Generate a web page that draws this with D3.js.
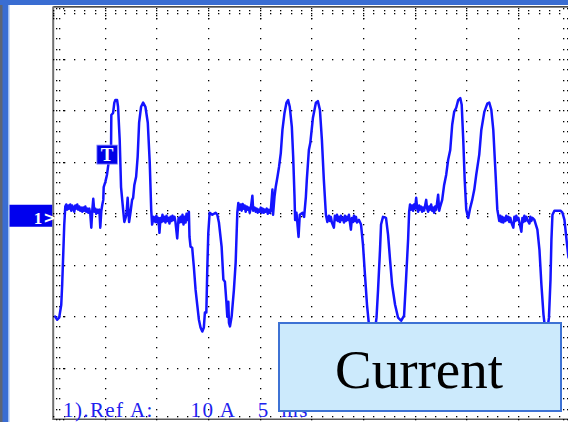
<!DOCTYPE html>
<html>
<head>
<meta charset="utf-8">
<script src="https://cdn.jsdelivr.net/npm/d3@7"></script>
<style>
  html, body { margin: 0; padding: 0; background: #fff; overflow: hidden; }
  svg { display: block; }
</style>
</head>
<body>
<svg id="scope" width="568" height="422"></svg>
<script>
// Channel 1 current trace: time in ms, current in A
const traceTime = [
  0.19, 0.39, 0.58, 0.78, 0.87, 0.97, 1.07, 1.17, 1.26, 1.36, 1.46, 1.55, 1.65, 1.75, 1.84, 1.94, 2.04, 2.14, 2.23, 2.33, 2.43, 2.52, 2.62, 2.72, 2.82, 2.91, 3.01, 3.11, 3.2, 3.3, 3.4, 3.5, 3.59, 3.69, 3.79, 3.88, 3.98, 4.08, 4.17, 4.27, 4.37, 4.47, 4.56, 4.66, 4.76, 4.85,
  4.89, 5.05, 5.21, 5.47, 5.6, 5.63, 5.8, 5.92, 6.02, 6.19, 6.28, 6.44, 6.57, 6.77, 6.89, 7.09, 7.21, 7.35, 7.48, 7.64, 7.74, 7.86, 8.03, 8.18, 8.32, 8.51, 8.71, 8.93, 9.16, 9.35, 9.49, 9.58, 9.74,
  9.9, 9.99, 10.1, 10.19, 10.29, 10.39, 10.49, 10.58, 10.68, 10.78, 10.87, 10.97, 11.07, 11.17, 11.26, 11.36, 11.46, 11.55, 11.65, 11.75, 11.84, 12.01, 12.14, 12.23, 12.33, 12.43, 12.52, 12.62, 12.72, 12.82, 12.91, 13.01, 13.14,
  13.2, 13.3, 13.46, 13.62, 13.79, 13.95, 14.11, 14.27, 14.44, 14.59, 14.69, 14.83, 14.92, 15.02, 15.15, 15.41, 15.73, 15.89, 16.05, 16.31, 16.48, 16.63, 16.77, 16.86, 16.96, 17.02, 17.12, 17.28, 17.5, 17.67, 17.83, 17.93,
  18.06, 18.16, 18.25, 18.35, 18.45, 18.54, 18.64, 18.74, 18.83, 18.93, 19.03, 19.13, 19.29, 19.37, 19.51, 19.61, 19.71, 19.81, 19.9, 20.0, 20.1, 20.19, 20.29, 20.39, 20.49, 20.58, 20.68, 20.78, 20.87, 20.97, 21.07, 21.23, 21.29,
  21.43, 21.55, 21.72, 21.87, 22.04, 22.2, 22.4, 22.59, 22.75, 22.91, 23.11, 23.24, 23.37, 23.43, 23.56, 23.76, 23.88, 24.15, 24.3, 24.47, 24.56, 24.76, 24.9, 25.15, 25.44, 25.63, 25.83, 26.02, 26.21, 26.41, 26.55,
  26.7, 26.8, 26.89, 26.99, 27.18, 27.28, 27.38, 27.48, 27.57, 27.67, 27.77, 27.86, 27.96, 28.06, 28.16, 28.25, 28.35, 28.45, 28.54, 28.64, 28.83, 28.93, 29.03, 29.13, 29.22, 29.32, 29.42, 29.61,
  29.81, 30.0, 30.19, 30.39, 30.58, 30.78, 30.97, 31.17, 31.31, 31.46, 31.65, 31.75, 31.94, 32.23, 32.43, 32.62, 32.82, 33.11, 33.4, 33.69, 33.98, 34.17, 34.37, 34.47, 34.56,
  34.66, 34.76, 34.85, 34.95, 35.05, 35.15, 35.24, 35.34, 35.44, 35.53, 35.63, 35.73, 35.83, 35.92, 36.02, 36.12, 36.21, 36.31, 36.41, 36.5, 36.6, 36.7, 36.8, 36.89, 36.99, 37.09, 37.28, 37.38, 37.48,
  37.67, 37.86, 38.06, 38.25, 38.45, 38.64, 38.83, 39.03, 39.22, 39.42, 39.56, 39.71, 39.85, 40.0, 40.19, 40.39, 40.58, 40.78, 40.97, 41.26, 41.46, 41.75, 42.04, 42.23, 42.43, 42.62, 42.82, 43.01, 43.2,
  43.3, 43.4, 43.5, 43.59, 43.69, 43.79, 43.88, 43.98, 44.08, 44.17, 44.27, 44.37, 44.56, 44.66, 44.76, 44.85, 44.95, 45.05, 45.15, 45.34, 45.44, 45.53, 45.63, 45.73, 45.83, 45.92, 46.12, 46.21, 46.31, 46.41, 46.6,
  46.89, 47.09, 47.28, 47.48, 47.67, 47.86, 48.01, 48.16, 48.25, 48.35, 48.54, 48.83, 49.13, 49.32, 49.51, 49.71, 49.9
];
const traceCurrent = [
  -20.1, -20.7, -20.3, -17.8, -13.9, -8.1, -2.2, 1.3, 1.7, 0.7, 1.5, 0.9, 1.7, 0.5, 1.5, 1.1, 0.3, 1.5, 0.9, 1.7, 0.7, 1.3, 0.5, 1.1, 0.3, 1.1, 0.5, 1.3, 0.3, 0.9, 0.1, 0.9, -0.1, -2.8, 0.7, 2.8, 0.3, 0.9, -0.1, 0.7, 0.1, 0.7, -2.8, 0.5, 1.7, 2.6,
  5.1, 6.1, 7.5, 11.4, 12.3, 19.1, 19.5, 21.5, 22.0, 22.0, 20.7, 14.3, 5.1, 0.7, -1.7, -0.3, 3.0, -1.7, 0.1, 2.6, 3.0, 5.5, 7.1, 11.0, 17.6, 20.7, 21.5, 20.7, 17.6, 9.8, 0.7, -2.2, -0.7,
  -1.7, -0.5, -1.8, -0.9, -3.8, -0.9, -1.7, -0.3, -1.5, -0.7, -1.8, -0.5, -1.5, -0.9, -2.0, -0.7, -1.5, -0.5, -1.3, -0.7, -1.7, -4.9, -0.9, -1.8, -0.7, -1.7, -0.3, -2.2, -0.7, -1.8, -0.1, -1.3, 0.3,
  -4.6, -6.5, -6.7, -10.4, -14.9, -17.8, -20.7, -22.2, -23.0, -22.2, -19.3, -19.3, -11.0, -3.8, 0.1, -0.3, 0.1, -0.3, -1.8, -6.5, -12.9, -13.3, -17.2, -20.1, -17.2, -21.3, -22.0, -20.1, -14.9, -9.6, 0.1, 2.0,
  0.7, 1.7, 0.5, 1.8, 0.9, 1.5, 0.3, 1.3, 0.7, 1.1, 0.1, 0.9, 3.4, 0.5, 1.1, 0.3, 0.9, 0.1, 0.7, 0.3, 1.1, 0.1, 0.9, 0.1, 0.7, 0.3, 0.9, -0.1, 0.7, 0.1, 0.5, 4.6, -0.3,
  3.2, 5.1, 7.1, 9.0, 11.7, 16.2, 19.5, 21.5, 22.0, 20.7, 16.8, 11.0, 3.2, -1.3, 0.1, -4.6, -0.3, 0.1, -0.7, 3.2, 6.5, 12.3, 13.7, 18.5, 21.5, 21.8, 20.1, 14.3, 6.5, -0.3, -1.7,
  -0.5, -1.5, -0.7, -1.8, -2.8, -0.5, -1.3, -0.3, -1.5, -0.7, -1.7, -0.5, -1.3, -0.9, -1.8, -0.5, -1.5, -0.7, -1.3, -0.3, -3.2, -0.9, -1.7, -0.5, -1.5, -0.7, -1.8, -1.3,
  -2.2, -6.1, -11.9, -17.8, -21.7, -22.8, -23.2, -22.6, -20.3, -14.9, -7.1, -2.2, -0.7, -0.9, -4.2, -9.0, -13.9, -17.8, -20.3, -20.9, -19.9, -12.9, -5.1, 0.3, 1.7,
  0.7, 1.5, 0.5, 1.7, 0.9, 3.0, 1.1, 0.3, 1.5, 0.7, 1.3, 0.3, 1.1, 0.5, 1.5, 2.6, 0.9, 0.3, 1.3, 0.7, 1.7, 0.5, 1.1, 0.1, 1.3, 0.7, 3.6, 0.5, 1.3,
  2.6, 5.5, 7.5, 10.4, 12.3, 17.2, 19.7, 20.5, 22.0, 22.4, 21.1, 14.3, 6.5, 0.7, -0.9, 1.1, 2.6, 4.6, 7.5, 11.4, 16.2, 19.7, 21.3, 21.5, 20.1, 16.2, 8.4, 0.7, -1.5,
  -0.5, -1.7, -0.7, -1.8, -0.9, -1.5, -0.5, -1.3, -0.7, -1.7, -0.9, -1.8, -2.8, -0.7, -1.5, -0.5, -1.3, -0.9, -1.8, -3.6, -0.9, -1.7, -0.5, -1.5, -0.7, -1.3, -2.0, -0.7, -1.5, -0.9, -1.3,
  -3.2, -7.1, -13.9, -19.7, -23.0, -22.6, -20.3, -12.9, -5.1, -0.3, 0.5, 0.5, 0.5, 0.1, -1.3, -5.1, -8.6
];

// Graticule: 10 horizontal divisions of 5 ms, 8 vertical divisions of 10 A
const timeTicks = d3.range(0, 50.001, 5);
const currentTicks = d3.range(-40, 40.001, 10);
const minorTime = d3.range(0, 50.001, 1);
const minorCurrent = d3.range(-40, 40.001, 2);

// Annotation texts
const channelLabel = ["1", ">"];
const triggerLabel = "T";
const triggerTime = 5.2;      // ms
const triggerLevel = 11.5;    // A
const scaleLabels = [
  { text: "1).Ref A:", at: 0.95 },
  { text: "10 A", at: 13.3 },
  { text: "5", at: 19.8 },
  { text: "ms", at: 22.1 }
];
const captionText = "Current";

const svg = d3.select("#scope");
const W = 568, H = 422;

const x = d3.scaleLinear().domain([0, 50]).range([53.2, 569.5]);
const y = d3.scaleLinear().domain([-40, 40]).range([419, 7.5]);

// Window chrome
svg.append("rect").attr("width", W).attr("height", H).attr("fill", "#ffffff");
svg.append("rect").attr("x", 0).attr("y", 0).attr("width", 9).attr("height", H).attr("fill", "#3a6dd2");
svg.append("rect").attr("x", 0).attr("y", 0).attr("width", 2.5).attr("height", H).attr("fill", "#5e6574");
svg.append("rect").attr("x", 8).attr("y", 0).attr("width", 1.5).attr("height", H).attr("fill", "#9fbdf2");
svg.append("rect").attr("x", 0).attr("y", 0).attr("width", W).attr("height", 5).attr("fill", "#3a6dd2");

// Plot frame
svg.append("line").attr("x1", x(0)).attr("x2", W).attr("y1", 6.8).attr("y2", 6.8)
  .attr("stroke", "#111").attr("stroke-width", 1.2);
svg.append("line").attr("x1", x(0)).attr("x2", x(0)).attr("y1", 6.5).attr("y2", 420)
  .attr("stroke", "#707070").attr("stroke-width", 2);
svg.append("line").attr("x1", x(0)).attr("x2", W).attr("y1", 419.3).attr("y2", 419.3)
  .attr("stroke", "#5a5a5a").attr("stroke-width", 1.4);

// Dotted graticule
const dots = [];
const x0 = x(0), x1 = x(50), yTop = y(40), yBot = y(-40), yc = y(0), xc = x(25);
timeTicks.filter(t => t > 0 && t < 50).forEach(t =>
  minorCurrent.forEach(a => dots.push([x(t), y(a)])));
currentTicks.filter(a => a > -40 && a < 40).forEach(a =>
  minorTime.forEach(t => dots.push([x(t), y(a)])));
// edge ticks
minorTime.forEach(t => {
  const major = t % 5 === 0;
  [2.5].concat(major ? [5, 7.5, 10] : [5.5]).forEach(o => dots.push([x(t), yTop + o]));
  dots.push([x(t), yBot - 3]);
  // centre horizontal axis ticks
  if (t % 2 === 1) dots.push([x(t), yc - 3]);
  if (t % 2 === 0) dots.push([x(t), yc + 3]);
});
minorCurrent.forEach(a => {
  const major = a % 10 === 0;
  [2.5, 6].concat(major ? [9.5] : []).forEach(o => dots.push([x0 + o, y(a)]));
  [-6.5, -3].forEach(o => dots.push([x1 + o, y(a)]));
});
svg.append("g").selectAll("rect").data(dots).join("rect")
  .attr("x", d => Math.round(d[0]))
  .attr("y", d => Math.round(d[1]))
  .attr("width", 1.3).attr("height", 1.3)
  .attr("fill", "#000");

// Scale readout
svg.append("g").selectAll("text").data(scaleLabels).join("text")
  .attr("x", d => x(d.at))
  .attr("y", 417)
  .attr("font-family", "'Liberation Serif', 'Times New Roman', serif")
  .attr("font-size", 21)
  .attr("letter-spacing", 1.4)
  .attr("fill", "#2020ee")
  .text(d => d.text);

// Current trace
const points = traceTime.map((t, i) => ({ t, a: traceCurrent[i] }));
const line = d3.line().x(d => x(d.t)).y(d => y(d.a));
svg.append("path").datum(points)
  .attr("d", line)
  .attr("fill", "none")
  .attr("stroke", "#1414ff")
  .attr("stroke-width", 2.5)
  .attr("stroke-linejoin", "round")
  .attr("stroke-linecap", "round");

// Trigger marker
const tx = x(triggerTime), ty = y(triggerLevel);
svg.append("rect").attr("x", tx - 10).attr("y", ty - 9).attr("width", 20.5).attr("height", 19)
  .attr("fill", "#0000e6").attr("stroke", "#8a8aff").attr("stroke-width", 0.8);
svg.append("text").attr("x", tx + 0.3).attr("y", ty + 7)
  .attr("text-anchor", "middle")
  .attr("font-family", "'Liberation Serif', serif").attr("font-weight", "bold")
  .attr("font-size", 19).attr("fill", "#fff").text(triggerLabel);

// Channel ground marker
svg.append("rect").attr("x", 9.5).attr("y", yc - 8.5).attr("width", x0 - 10.5).attr("height", 22)
  .attr("fill", "#0000ee");
svg.append("text").attr("x", 38).attr("y", yc + 10.5)
  .attr("text-anchor", "middle")
  .attr("font-family", "'Liberation Serif', serif").attr("font-weight", "bold")
  .attr("font-size", 17).attr("fill", "#fff").text(channelLabel[0]);
svg.append("text").attr("x", 49.5).attr("y", yc + 10)
  .attr("text-anchor", "middle")
  .attr("font-family", "'DejaVu Sans', sans-serif").attr("font-weight", "bold")
  .attr("font-size", 15).attr("fill", "#fff").text(channelLabel[1]);

// Caption box
svg.append("rect").attr("x", 279).attr("y", 323).attr("width", 282).attr("height", 88)
  .attr("fill", "#cceafc").attr("stroke", "#3d72d4").attr("stroke-width", 2);
svg.append("text").attr("x", 419).attr("y", 388)
  .attr("text-anchor", "middle")
  .attr("font-family", "'Liberation Serif', 'Times New Roman', serif")
  .attr("font-size", 55).attr("fill", "#000").text(captionText);
</script>
</body>
</html>
